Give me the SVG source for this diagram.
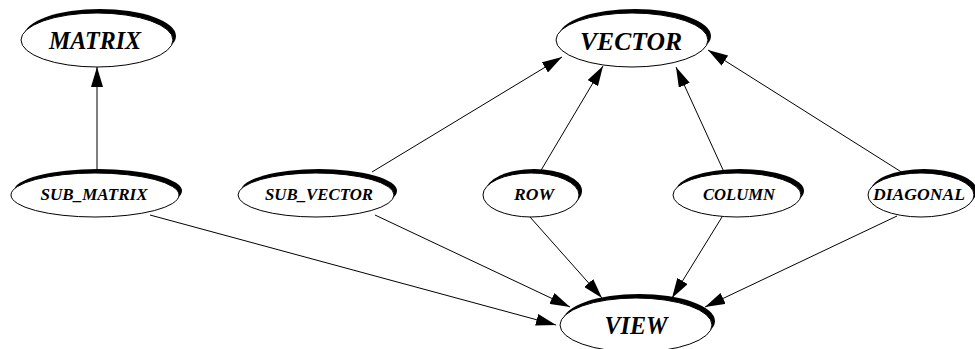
<svg xmlns="http://www.w3.org/2000/svg" width="975" height="349" viewBox="0 0 975 349">
<style>
.sh{fill:#000}
.bd{fill:#fff;stroke:#000;stroke-width:1}
.t{font-family:"Liberation Serif",serif;font-weight:bold;font-style:italic;fill:#000;text-anchor:middle}
.big{font-size:26px}
.sm{font-size:16px}
.e{stroke:#000;stroke-width:1;fill:none;marker-end:url(#ah)}
</style>
<defs>
<marker id="ah" markerUnits="userSpaceOnUse" markerWidth="20" markerHeight="12" refX="20" refY="6" orient="auto">
<path d="M0,0 L20,6 L0,12 z" fill="#000"/>
</marker>
</defs>
<rect width="975" height="349" fill="#fff"/>
<g id="connectors">
<line class="e" x1="97" y1="171" x2="97" y2="67"/>
<line class="e" x1="372" y1="172" x2="562" y2="57"/>
<line class="e" x1="540" y1="172" x2="603" y2="66"/>
<line class="e" x1="724" y1="172" x2="676" y2="67"/>
<line class="e" x1="903" y1="173" x2="708" y2="50"/>
<line class="e" x1="150" y1="215" x2="556" y2="325"/>
<line class="e" x1="375" y1="215" x2="570" y2="307"/>
<line class="e" x1="530" y1="217" x2="602" y2="298"/>
<line class="e" x1="722" y1="217" x2="672" y2="298"/>
<line class="e" x1="897" y1="216" x2="705" y2="307"/>
</g>
<g id="MATRIX">
<ellipse class="sh" cx="100" cy="36" rx="76" ry="27"/>
<ellipse class="bd" cx="97" cy="40" rx="76" ry="27"/>
<text class="t big" x="95" y="49" textLength="92" lengthAdjust="spacingAndGlyphs">MATRIX</text>
</g>
<g id="VECTOR">
<ellipse class="sh" cx="635" cy="36" rx="76" ry="27"/>
<ellipse class="bd" cx="632" cy="40" rx="76" ry="27"/>
<text class="t big" x="631" y="50" textLength="102" lengthAdjust="spacingAndGlyphs">VECTOR</text>
</g>
<g id="SUB_MATRIX">
<ellipse class="sh" cx="98" cy="191" rx="84" ry="22"/>
<ellipse class="bd" cx="95" cy="195" rx="84" ry="22"/>
<text class="t sm" x="94" y="200" textLength="107" lengthAdjust="spacingAndGlyphs">SUB_MATRIX</text>
</g>
<g id="SUB_VECTOR">
<ellipse class="sh" cx="319" cy="191" rx="78" ry="22"/>
<ellipse class="bd" cx="316" cy="195" rx="78" ry="22"/>
<text class="t sm" x="319" y="200" textLength="108" lengthAdjust="spacingAndGlyphs">SUB_VECTOR</text>
</g>
<g id="ROW">
<ellipse class="sh" cx="534" cy="191" rx="48" ry="22"/>
<ellipse class="bd" cx="531" cy="195" rx="48" ry="22"/>
<text class="t sm" x="534" y="200" textLength="40" lengthAdjust="spacingAndGlyphs">ROW</text>
</g>
<g id="COLUMN">
<ellipse class="sh" cx="740" cy="191" rx="64" ry="22"/>
<ellipse class="bd" cx="737" cy="195" rx="64" ry="22"/>
<text class="t sm" x="739" y="200" textLength="72" lengthAdjust="spacingAndGlyphs">COLUMN</text>
</g>
<g id="DIAGONAL">
<ellipse class="sh" cx="924" cy="191" rx="53" ry="22"/>
<ellipse class="bd" cx="921" cy="195" rx="53" ry="22"/>
<text class="t sm" x="919" y="200" textLength="92" lengthAdjust="spacingAndGlyphs">DIAGONAL</text>
</g>
<g id="VIEW">
<ellipse class="sh" cx="639" cy="321" rx="76" ry="27"/>
<ellipse class="bd" cx="636" cy="325" rx="76" ry="27"/>
<text class="t big" x="636" y="334" textLength="63" lengthAdjust="spacingAndGlyphs">VIEW</text>
</g>
</svg>
